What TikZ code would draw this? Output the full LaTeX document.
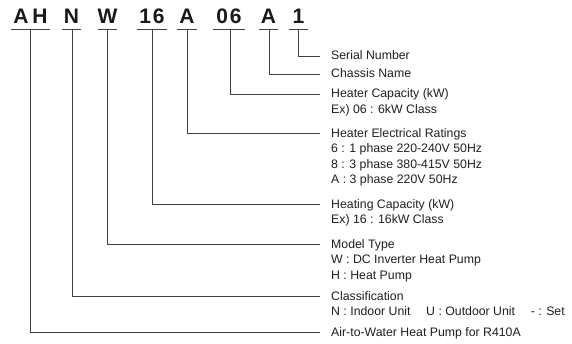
\documentclass[tikz,border=0pt]{standalone}
\usepackage{fontspec}
\setmainfont{Liberation Sans}
\newcommand{\rows}[1]{\begin{tabular}[t]{@{}l@{}}#1\end{tabular}}
\begin{document}
\begin{tikzpicture}[x=1pt,y=-1pt,
  code/.style={font=\fontsize{21}{21}\selectfont\bfseries, text=black!90, inner xsep=0pt, inner ysep=0pt,
    text depth=0pt, anchor=base},
  lab/.style={font=\fontsize{12.3}{15.3}\selectfont, text=black!88, inner sep=0pt, anchor=base west},
  ln/.style={draw=black!75, line width=0.9pt},
]
\useasboundingbox (0,0) rectangle (572,344);
% code letters
\node[code] (cAH) at (30.5,23.5) {A\kern4pt H};
\node[code] (cN)  at (71.5,23.5) {N};
\node[code] (cW)  at (107.5,23.5) {W};
\node[code] (c16) at (152,23.5) {1\kern2pt 6};
\node[code] (cA1) at (187,23.5) {A};
\node[code] (c06) at (229,23.5) {0\kern2pt 6};
\node[code] (cA2) at (268.5,23.5) {A};
\node[code] (c1)  at (298.5,23.5) {1};
% underline anchor coordinates
\coordinate (uAH) at (30,29);
\coordinate (uN) at (72,29);
\coordinate (uW) at (107,29);
\coordinate (u16) at (152,29);
\coordinate (uA1) at (187,29);
\coordinate (u06) at (230,29);
\coordinate (uA2) at (269,29);
\coordinate (u1) at (298.5,29);
\draw[ln] (11,29) -- (50,29);
\draw[ln] (62,29) -- (81,29);
\draw[ln] (98,29) -- (117,29);
\draw[ln] (137,29) -- (167,29);
\draw[ln] (177,29) -- (197,29);
\draw[ln] (213,29) -- (245,29);
\draw[ln] (259,29) -- (278,29);
\draw[ln] (289,29) -- (308,29);
% labels
\node[lab] (l1) at (331,60) {Serial Number};
\node[lab] (l2) at (331,78) {Chassis Name};
\node[lab] (l3) at (331,98) {\rows{Heater Capacity (kW)\\Ex) 06 : 6kW Class}};
\node[lab] (l4) at (331,137.5) {\rows{Heater Electrical Ratings\\6 : 1 phase 220-240V 50Hz\\8 : 3 phase 380-415V 50Hz\\A : 3 phase 220V 50Hz}};
\node[lab] (l5) at (331,208.5) {\rows{Heating Capacity (kW)\\Ex) 16 : 16kW Class}};
\node[lab] (l6) at (331,248.5) {\rows{Model Type\\W : DC Inverter Heat Pump\\H : Heat Pump}};
\node[lab] (l7) at (331,300) {\rows{Classification\\N : Indoor Unit\hspace{1em} U : Outdoor Unit\hspace{1em} - : Set}};
\node[lab] (l8) at (331,336) {Air-to-Water Heat Pump for R410A};
% line end coordinates
\coordinate (e1) at (320,56);
\coordinate (e2) at (320,74);
\coordinate (e3) at (320,94);
\coordinate (e4) at (320,133.5);
\coordinate (e5) at (320,204.5);
\coordinate (e6) at (320,244.5);
\coordinate (e7) at (320,296);
\coordinate (e8) at (320,332);
\draw[ln] (u1) |- (e1);
\draw[ln] (uA2) |- (e2);
\draw[ln] (u06) |- (e3);
\draw[ln] (uA1) |- (e4);
\draw[ln] (u16) |- (e5);
\draw[ln] (uW) |- (e6);
\draw[ln] (uN) |- (e7);
\draw[ln] (uAH) |- (e8);
\end{tikzpicture}
\end{document}
